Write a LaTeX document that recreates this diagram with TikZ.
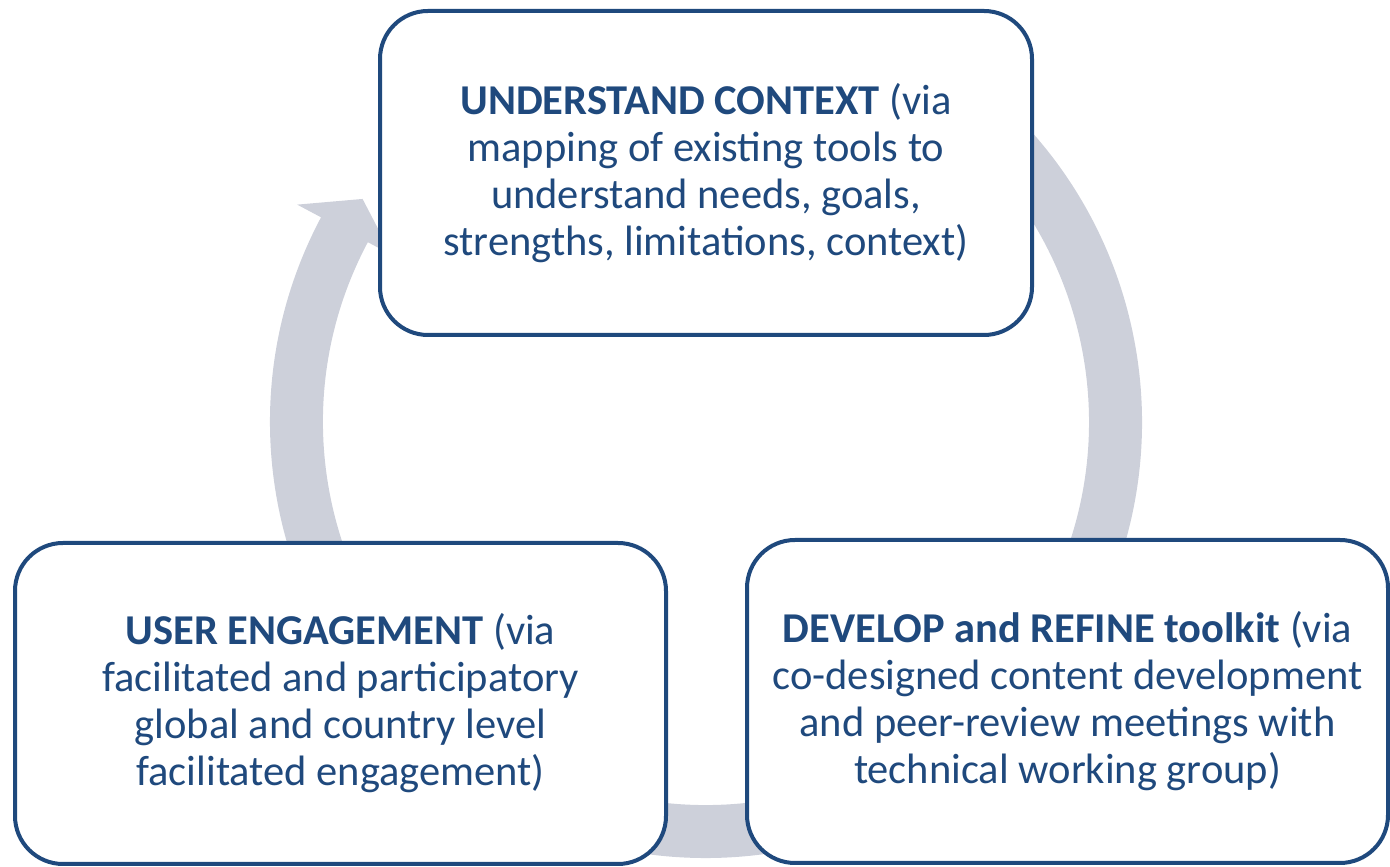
\documentclass[tikz,border=0pt]{standalone}
\usepackage{fontspec}
\setmainfont{Carlito}
\usepackage{xcolor}
\definecolor{boxblue}{RGB}{31,73,125}
\definecolor{ringgrey}{RGB}{205,208,218}
\tikzset{%
	stage/.style = {draw=boxblue, line width=4pt, fill=white, rectangle, rounded corners=48pt, text=boxblue, align=center, font=\fontsize{42.5}{47}\selectfont},
	ring/.style  = {fill=ringgrey, shift={(706,445)}},
}

\begin{document}
\begin{tikzpicture}[x=1pt,y=1pt]
		\useasboundingbox (0,0) rectangle (1390,867);
		\fill[ring] (55:436) arc[start angle=55, end angle=-208, radius=436pt] -- (-208:463) -- (-213:409.5) -- (-208:356) -- (-208:383) arc[start angle=-208, end angle=55, radius=383pt] -- cycle;
		\node[stage, minimum width=652pt, minimum height=324pt] (context) at (706,694) {\textbf{UNDERSTAND CONTEXT} (via\\mapping of existing tools to\\understand needs, goals,\\strengths, limitations, context)};
		\node[stage, minimum width=651pt, minimum height=321pt] (engage) at (340.5,163.5) {\textbf{USER ENGAGEMENT} (via\\facilitated and participatory\\global and country level\\facilitated engagement)};
		\node[stage, minimum width=641pt, minimum height=323pt] (develop) at (1067.5,165.5) {\textbf{DEVELOP and REFINE toolkit} (via\\co-designed content development\\and peer-review meetings with\\technical working group)};
	\end{tikzpicture}
\end{document}
